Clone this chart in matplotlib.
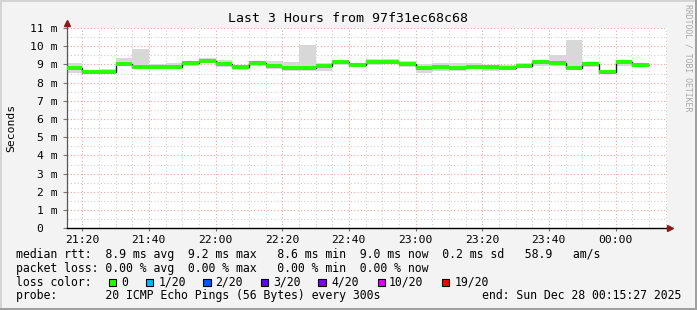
import numpy as np
import matplotlib
matplotlib.use("Agg")
import matplotlib.pyplot as plt
from matplotlib.patches import Rectangle

# time axis: minutes after 21:00, graph spans 21:15:27 .. 00:15:27
t_start = 15.45
t_end = 195.45
step_edges = [t_start] + list(np.arange(20, 191, 5))

# median rtt per 5 min step (ms)
median = [8.79, 8.61, 8.61, 9.03, 8.88, 8.85, 8.88, 9.07, 9.19, 9.03,
          8.85, 9.08, 8.92, 8.81, 8.81, 8.94, 9.14, 8.97, 9.14, 9.14,
          9.03, 8.79, 8.85, 8.81, 8.88, 8.88, 8.81, 8.94, 9.12, 9.10,
          8.83, 9.03, 8.61, 9.12, 8.99]
# smoke (min / max of the pings) per step (ms)
smoke_hi = [9.06, 8.72, 8.75, 9.34, 9.85, 9.03, 9.06, 9.19, 9.34, 9.25,
            8.97, 9.19, 9.19, 9.12, 10.07, 9.06, 9.25, 9.06, 9.28, 9.28,
            9.19, 9.00, 9.06, 9.06, 9.06, 8.97, 8.97, 9.06, 9.25, 9.49,
            10.35, 9.16, 8.70, 9.25, 9.10]
smoke_lo = [8.51, 8.50, 8.57, 8.92, 8.79, 8.74, 8.74, 8.94, 9.06, 8.88,
            8.70, 8.94, 8.74, 8.66, 8.66, 8.66, 8.97, 8.85, 8.97, 9.00,
            8.88, 8.55, 8.66, 8.66, 8.75, 8.66, 8.70, 8.83, 8.94, 8.94,
            8.75, 8.88, 8.51, 8.92, 8.85]

xtick_pos = [20, 40, 60, 80, 100, 120, 140, 160, 180]
xtick_labels = ["21:20", "21:40", "22:00", "22:20", "22:40",
                "23:00", "23:20", "23:40", "00:00"]
ytick_pos = list(range(0, 12))
ytick_labels = ["0  "] + ["%d m" % v for v in range(1, 12)]

loss_labels = ["0", "1/20", "2/20", "3/20", "4/20", "10/20", "19/20"]
loss_colors = ["#26ff00", "#00b8ff", "#0059ff", "#5e00ff",
               "#7e00ff", "#dd00ff", "#ff0000"]

W, H = 697, 310
mono = "DejaVu Sans Mono"
fig = plt.figure(figsize=(W / 100, H / 100), dpi=100, facecolor="#f3f3f3")

def fx(px):
    return px / W

def fy(py):
    return 1 - py / H

ax = fig.add_axes([fx(67), fy(228.3), fx(600), (228.3 - 28) / H])
ax.set_facecolor("white")
ax.set_xlim(t_start, t_end)
ax.set_ylim(0, 11)

# grid
for v in np.arange(0.5, 11, 1.0):
    ax.axhline(v, color="#cfcfcf", lw=0.8, ls=(0, (1, 2)), zorder=0)
for t in np.arange(20, 196, 5):
    if t not in xtick_pos:
        ax.axvline(t, color="#cfcfcf", lw=0.8, ls=(0, (1, 2)), zorder=0)
for v in range(1, 12):
    ax.axhline(v, color="#f2a0a0", lw=0.8, ls=(0, (1, 2)), zorder=0.5)
for t in xtick_pos:
    ax.axvline(t, color="#f2a0a0", lw=0.8, ls=(0, (1, 2)), zorder=0.5)

# smoke and median
ax.stairs(smoke_hi, step_edges, baseline=smoke_lo, fill=True,
          color="#d8d8d8", lw=0, zorder=2)
ax.stairs(median, step_edges, baseline=None, color="#202020", lw=1.0, zorder=3)
ax.hlines(median, step_edges[:-1], step_edges[1:], color=loss_colors[0],
          lw=2.8, zorder=4)

# axes look
for s in ["top", "right"]:
    ax.spines[s].set_visible(False)
ax.spines["left"].set_color("#555555")
ax.spines["bottom"].set_color("black")
ax.spines["left"].set_linewidth(0.9)
ax.spines["bottom"].set_linewidth(1.0)
ax.set_xticks(xtick_pos)
ax.set_xticklabels(xtick_labels, family=mono, fontsize=8.2)
ax.set_yticks(ytick_pos)
ax.set_yticklabels(ytick_labels, family=mono, fontsize=8.2)
ax.tick_params(axis="y", length=3, width=0.8, color="#777777", pad=4)
ax.tick_params(axis="x", length=2, width=0.8, color="#777777", pad=3)

# axis arrows
ax.plot([t_start, t_start], [11, 11.25], color="#555555", lw=0.9,
        clip_on=False)
ax.plot([t_start], [11.3], marker="^", ms=4.5, color="#8b1a1a",
        clip_on=False, zorder=6)
ax.plot([t_end, t_end + 0.6], [0, 0], color="black", lw=1.0, clip_on=False)
ax.plot([t_end + 0.9], [0], marker=">", ms=4.5, color="#8b1a1a",
        clip_on=False, zorder=6)

# texts
fig.text(fx(348), fy(19), "Last 3 Hours from 97f31ec68c68", family=mono,
         fontsize=9.5, ha="center", va="center")
fig.text(fx(11), fy(128), "Seconds", family=mono, fontsize=8.2,
         rotation=90, ha="center", va="center")
fig.text(fx(688), fy(58), "RRDTOOL / TOBI OETIKER", family=mono,
         fontsize=5.9, rotation=270, ha="center", va="center",
         color="#a8a8a8")

line1 = ("median rtt:  8.9 ms avg  9.2 ms max   8.6 ms min  "
         "9.0 ms now  0.2 ms sd   58.9   am/s")
line2 = "packet loss: 0.00 % avg  0.00 % max   0.00 % min  0.00 % now"
fig.text(fx(16), fy(254.3), line1, family=mono, fontsize=8.3, va="center")
fig.text(fx(16), fy(268.3), line2, family=mono, fontsize=8.3, va="center")
fig.text(fx(16), fy(282.3), "loss color:", family=mono, fontsize=8.3,
         va="center")
fig.text(fx(16), fy(295.5), "probe:       20 ICMP Echo Pings (56 Bytes) every 300s",
         family=mono, fontsize=8.3, va="center")
fig.text(fx(681), fy(295.5), "end: Sun Dec 28 00:15:27 2025", family=mono,
         fontsize=8.3, va="center", ha="right")

box_x = [108.7, 145.7, 203.3, 260.7, 318.3, 377.7, 441.7]
text_x = [121.5, 158.5, 215.5, 273.5, 331.0, 389.0, 455.0]
for bx, tx, lab, col in zip(box_x, text_x, loss_labels, loss_colors):
    fig.patches.append(Rectangle((fx(bx), fy(286)), fx(7.5), 7.5 / H,
                                 transform=fig.transFigure, facecolor=col,
                                 edgecolor="black", lw=0.8))
    fig.text(fx(tx), fy(282.3), lab, family=mono, fontsize=8.3, va="center")

# 3d-ish frame
fig.patches.append(Rectangle((0, 1 - 2 / H), 1, 2 / H, transform=fig.transFigure,
                             facecolor="#d4d4d4", lw=0))
fig.patches.append(Rectangle((0, 0), 2 / W, 1, transform=fig.transFigure,
                             facecolor="#d4d4d4", lw=0))
fig.patches.append(Rectangle((1 - 2 / W, 0), 2 / W, 1, transform=fig.transFigure,
                             facecolor="#a0a0a0", lw=0))
fig.patches.append(Rectangle((0, 0), 1, 2 / H, transform=fig.transFigure,
                             facecolor="#a0a0a0", lw=0))

fig.savefig("out.png", dpi=100, facecolor=fig.get_facecolor())
